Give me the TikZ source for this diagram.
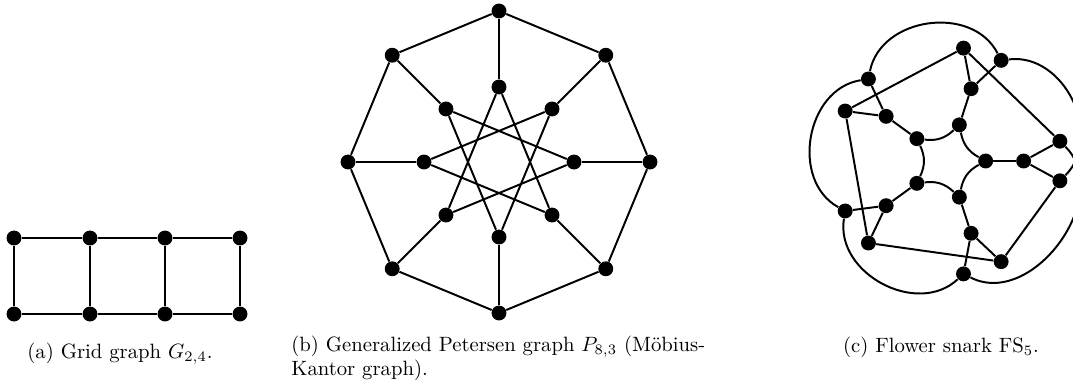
\documentclass[tikz,border=0pt]{standalone}
\usepackage{amsmath}
\tikzset{
    vtx/.style={circle, fill=black, inner sep=0pt, minimum size=7.2pt},
    capt/.style={font=\normalsize, inner sep=0pt},
}
\begin{document}
\begin{tikzpicture}[
    x=0.483pt, y=0.483pt,
    edge/.style={line width=0.95pt, black}
]
    \useasboundingbox (0,0) rectangle (1073,381);
    % (a) grid graph
    \node[vtx] (gt1) at (14,143) {};
    \node[vtx] (gt2) at (90,143) {};
    \node[vtx] (gt3) at (165,143) {};
    \node[vtx] (gt4) at (240,143) {};
    \node[vtx] (gb1) at (14,67) {};
    \node[vtx] (gb2) at (90,67) {};
    \node[vtx] (gb3) at (165,67) {};
    \node[vtx] (gb4) at (240,67) {};
    \draw[edge] (gt1) -- (gt2) -- (gt3) -- (gt4);
    \draw[edge] (gb1) -- (gb2) -- (gb3) -- (gb4);
    \foreach \i in {1,...,4}
        \draw[edge] (gt\i) -- (gb\i);
    \node[capt, anchor=base] (capa) at (120,23) {(a) Grid graph $G_{2,4}$.};

    % (b) generalized Petersen graph
    \begin{scope}[shift={(499,219)}]
        \foreach \i in {0,...,7} {
            \node[vtx] (po\i) at (90-45*\i:151) {};
            \node[vtx] (pi\i) at (90-45*\i:75) {};
        }
        \foreach \i in {0,...,7} {
            \pgfmathtruncatemacro\j{mod(\i+1,8)}
            \pgfmathtruncatemacro\k{mod(\i+3,8)}
            \draw[edge] (po\i) -- (po\j);
            \draw[edge] (po\i) -- (pi\i);
            \draw[edge] (pi\i) -- (pi\k);
        }
    \end{scope}
    \node[capt, anchor=base west, align=left,
          font={\fontsize{10}{10}\selectfont}] (capb) at (291,6)
        {(b) Generalized Petersen graph $P_{8,3}$ (M\"obius-\\Kantor graph).};

    % (c) flower snark
    \begin{scope}[shift={(947.6,220)}]
        \foreach \i in {0,...,4} {
            \node[vtx] (fb\i) at (72*\i:38) {};
            \node[vtx] (fa\i) at (72*\i:76) {};
            \node[vtx] (fc\i) at (72*\i+10:114) {};
            \node[vtx] (fd\i) at (72*\i-10:114) {};
        }
        \foreach \i in {0,...,4} {
            \pgfmathtruncatemacro\j{mod(\i+1,5)}
            \draw[edge] (fb\i) -- (fa\i);
            \draw[edge] (fa\i) -- (fc\i);
            \draw[edge] (fa\i) -- (fd\i);
            \draw[edge] (fb\i) to[bend left=25] (fb\j);
        }
        \draw[edge] (fc0) -- (fc1) -- (fc2) -- (fc3) -- (fc4) -- (fd0);
        \foreach \i in {0,...,3} {
            \pgfmathtruncatemacro\j{\i+1}
            \draw[edge] (fd\i) to[out=72*\i+45, in=72*\i+7, looseness=1.1] (fd\j);
        }
        \draw[edge] (fd4) to[out=333, in=315, looseness=1.1] (fc0);
    \end{scope}
    \node[capt, anchor=base] (capc) at (941,29) {(c) Flower snark FS$_5$.};
\end{tikzpicture}
\end{document}
